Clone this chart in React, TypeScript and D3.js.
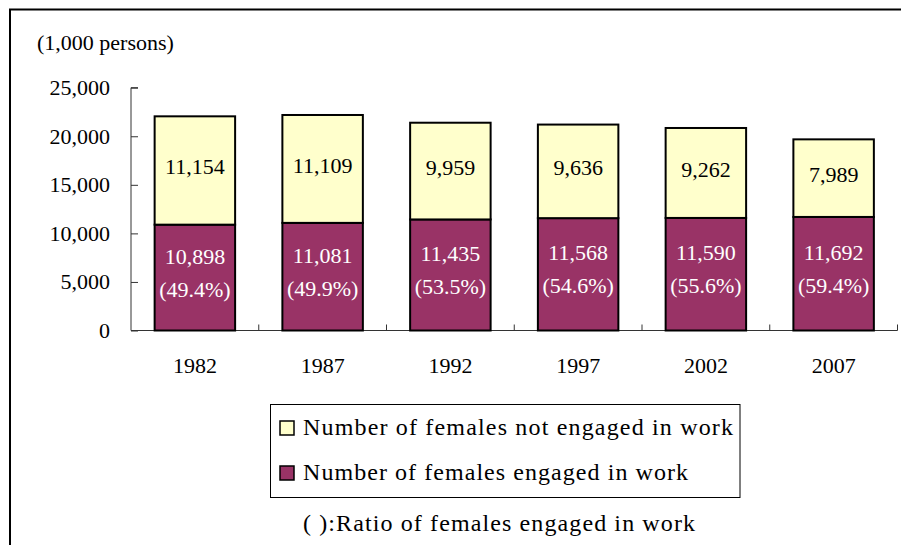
import React, { useEffect, useRef } from 'react'
import * as d3 from 'd3'

const years = ['1982', '1987', '1992', '1997', '2002', '2007']
const engaged = [10898, 11081, 11435, 11568, 11590, 11692]
const notEngaged = [11154, 11109, 9959, 9636, 9262, 7989]
const ratios = ['49.4%', '49.9%', '53.5%', '54.6%', '55.6%', '59.4%']
const yTicks = [0, 5000, 10000, 15000, 20000, 25000]
const legendLabels = ['Number of females not engaged in work', 'Number of females engaged in work']

const W = 901, H = 545
const FONT = "'Liberation Serif', serif"
const PURPLE = '#993366', YELLOW = '#FFFFCC'

const App = () => {
    const ref = useRef(null)

    useEffect(() => {
        const svg = d3.select(ref.current)
        svg.selectAll('*').remove()

        const x = d3.scaleBand().domain(years).range([131, 897.5]).paddingInner(0.37).paddingOuter(0.185)
        const y = d3.scaleLinear().domain([0, 25000]).range([330.5, 87.7])
        const fmt = d3.format(',')

        // outer frame (only top and left edges are visible)
        svg.append('path')
            .attr('d', `M10,${H + 5} V9.5 H${W + 5}`)
            .attr('fill', 'none').attr('stroke', '#000').attr('stroke-width', 2)

        svg.append('text')
            .attr('x', 37).attr('y', 50)
            .attr('font-family', FONT).attr('font-size', 22)
            .text('(1,000 persons)')

        // y axis
        const yAxis = svg.append('g').attr('transform', 'translate(131,0)')
            .call(d3.axisRight(y).tickValues(yTicks).tickSize(7).tickFormat(() => ''))
        yAxis.selectAll('line, path').attr('stroke', '#333')
        yAxis.select('.domain').attr('d', `M7,${y(25000)}H0V${y(0)}`)

        svg.append('g').selectAll('text').data(yTicks).enter().append('text')
            .attr('x', 110).attr('y', d => y(d) + 7.5)
            .attr('text-anchor', 'end')
            .attr('font-family', FONT).attr('font-size', 22)
            .text(d => fmt(d))

        // x axis with ticks at category boundaries
        const step = x.step()
        const bounds = d3.range(years.length + 1).map(i => 131 + i * step)
        const xg = svg.append('g')
        xg.append('line').attr('x1', 131).attr('x2', bounds[bounds.length - 1])
            .attr('y1', y(0)).attr('y2', y(0)).attr('stroke', '#333')
        xg.selectAll('.tk').data(bounds.slice(1)).enter().append('line')
            .attr('x1', d => d).attr('x2', d => d)
            .attr('y1', y(0)).attr('y2', y(0) - 6).attr('stroke', '#333')
        xg.selectAll('text').data(years).enter().append('text')
            .attr('x', d => x(d) + x.bandwidth() / 2).attr('y', 373)
            .attr('text-anchor', 'middle')
            .attr('font-family', FONT).attr('font-size', 22)
            .text(d => d)

        // bars
        const bars = svg.selectAll('.bar').data(years).enter().append('g')

        bars.append('rect')
            .attr('x', d => x(d)).attr('width', x.bandwidth())
            .attr('y', (d, i) => y(engaged[i]))
            .attr('height', (d, i) => y(0) - y(engaged[i]))
            .attr('fill', PURPLE).attr('stroke', '#000').attr('stroke-width', 2)

        bars.append('rect')
            .attr('x', d => x(d)).attr('width', x.bandwidth())
            .attr('y', (d, i) => y(engaged[i] + notEngaged[i]))
            .attr('height', (d, i) => y(engaged[i]) - y(engaged[i] + notEngaged[i]))
            .attr('fill', YELLOW).attr('stroke', '#000').attr('stroke-width', 2)

        bars.append('text')
            .attr('x', d => x(d) + x.bandwidth() / 2)
            .attr('y', (d, i) => (y(engaged[i]) + y(engaged[i] + notEngaged[i])) / 2 + 4)
            .attr('text-anchor', 'middle')
            .attr('font-family', FONT).attr('font-size', 22)
            .text((d, i) => fmt(notEngaged[i]))

        bars.append('text')
            .attr('x', d => x(d) + x.bandwidth() / 2)
            .attr('y', (d, i) => (y(0) + y(engaged[i])) / 2 - 14)
            .attr('text-anchor', 'middle').attr('fill', '#fff')
            .attr('font-family', FONT).attr('font-size', 22)
            .text((d, i) => fmt(engaged[i]))

        bars.append('text')
            .attr('x', d => x(d) + x.bandwidth() / 2)
            .attr('y', (d, i) => (y(0) + y(engaged[i])) / 2 + 19)
            .attr('text-anchor', 'middle').attr('fill', '#fff')
            .attr('font-family', FONT).attr('font-size', 22)
            .text((d, i) => `(${ratios[i]})`)

        // legend
        const lg = svg.append('g')
        lg.append('rect').attr('x', 270.5).attr('y', 404.5).attr('width', 469.5).attr('height', 93)
            .attr('fill', '#fff').attr('stroke', '#000').attr('stroke-width', 1)
        const items = lg.selectAll('.item').data(legendLabels).enter().append('g')
            .attr('transform', (d, i) => `translate(0,${421 + i * 45})`)
        items.append('rect').attr('x', 280).attr('y', 0).attr('width', 14).attr('height', 14)
            .attr('fill', (d, i) => i === 0 ? YELLOW : PURPLE)
            .attr('stroke', '#000').attr('stroke-width', 1.5)
        items.append('text')
            .attr('x', 303).attr('y', 14)
            .attr('font-family', FONT).attr('font-size', 24)
            .attr('textLength', (d, i) => i === 0 ? 430 : 385)
            .attr('lengthAdjust', 'spacing')
            .text(d => d)

        svg.append('text')
            .attr('x', 303).attr('y', 531)
            .attr('font-family', FONT).attr('font-size', 24)
            .attr('textLength', 392).attr('lengthAdjust', 'spacing')
            .text('( ):Ratio of females engaged in work')
    }, [])

    return (
        <svg ref={ref} width={W} height={H}
            style={{ position: 'absolute', left: 0, top: 0, background: '#fff' }} />
    )
}

export default App
